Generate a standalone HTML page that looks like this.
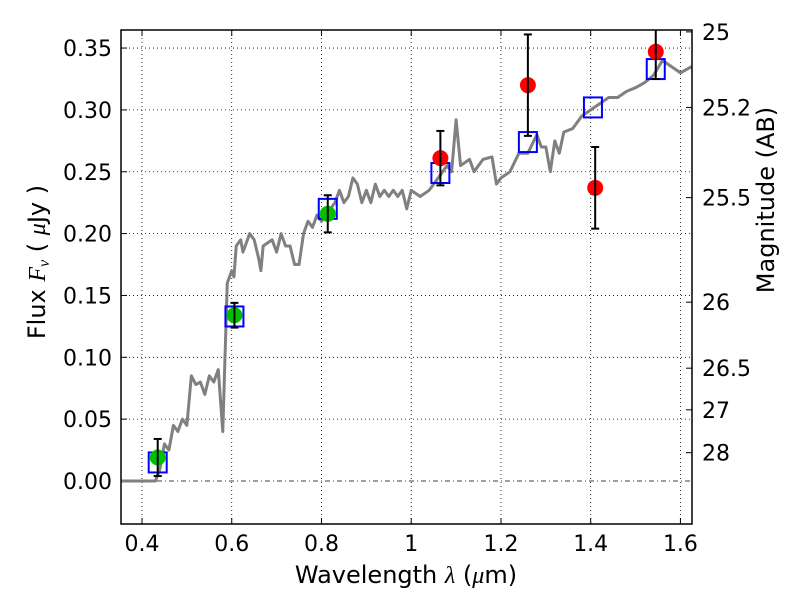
<!DOCTYPE html>
<html><head><meta charset="utf-8"><style>body{margin:0;background:#fff}svg{display:block}text{font-family:"DejaVu Sans","Liberation Sans",sans-serif;fill:#000}</style></head>
<body>
<svg id="chart" width="800" height="600" xmlns="http://www.w3.org/2000/svg"></svg>
<script>
const xTicks=[0.4,0.6,0.8,1.0,1.2,1.4,1.6];
const xTickLabels=["0.4","0.6","0.8","1","1.2","1.4","1.6"];
const yTicks=[0,0.05,0.1,0.15,0.2,0.25,0.3,0.35];
const yTickLabels=["0.00","0.05","0.10","0.15","0.20","0.25","0.30","0.35"];
const magTicks=[25,25.2,25.5,26,26.5,27,28];
const magLabels=["25","25.2","25.5","26","26.5","27","28"];
const specX=[0.35,0.43,0.44,0.45,0.46,0.47,0.48,0.49,0.50,0.51,0.52,0.53,0.54,0.55,0.56,0.57,0.58,0.585,0.59,0.60,0.605,0.61,0.62,0.625,0.64,0.65,0.66,0.665,0.67,0.69,0.70,0.71,0.72,0.73,0.74,0.75,0.76,0.77,0.78,0.79,0.80,0.82,0.83,0.84,0.85,0.86,0.87,0.88,0.89,0.90,0.91,0.92,0.93,0.94,0.95,0.96,0.97,0.98,0.99,1.0,1.02,1.04,1.06,1.08,1.09,1.10,1.11,1.13,1.14,1.16,1.18,1.19,1.20,1.22,1.24,1.26,1.28,1.29,1.30,1.31,1.32,1.33,1.34,1.36,1.38,1.40,1.42,1.44,1.46,1.48,1.50,1.52,1.54,1.56,1.58,1.60,1.625];
const specY=[0,0,0.01,0.03,0.025,0.045,0.04,0.05,0.045,0.085,0.078,0.08,0.07,0.085,0.08,0.09,0.04,0.1,0.16,0.17,0.165,0.19,0.195,0.185,0.2,0.195,0.18,0.17,0.19,0.195,0.185,0.2,0.19,0.19,0.175,0.175,0.2,0.21,0.205,0.215,0.21,0.22,0.225,0.235,0.225,0.23,0.245,0.24,0.225,0.235,0.225,0.24,0.23,0.235,0.23,0.235,0.23,0.235,0.22,0.235,0.23,0.235,0.245,0.255,0.25,0.292,0.255,0.26,0.25,0.26,0.262,0.24,0.245,0.25,0.265,0.265,0.28,0.27,0.27,0.25,0.275,0.265,0.282,0.285,0.295,0.3,0.305,0.31,0.31,0.315,0.318,0.322,0.328,0.34,0.335,0.33,0.335];
const modelX=[0.435,0.606,0.814,1.065,1.26,1.405,1.545];
const modelY=[0.015,0.133,0.22,0.249,0.274,0.302,0.333];
const obsX=[0.435,0.606,0.814,1.065,1.26,1.41,1.545];
const obsY=[0.019,0.134,0.216,0.261,0.320,0.237,0.347];
const obsErr=[0.015,0.01,0.015,0.022,0.041,0.033,0.022];
const obsColor=["#00c000","#00c000","#00c000","red","red","red","red"];

const L=121,R=692,T=30,B=524;
const X=v=>142+(v-0.4)*448.7;
const Y=v=>481-v*1237;
const svg=document.getElementById('chart');
const NS="http://www.w3.org/2000/svg";
function mk(tag,attrs,parent){const e=document.createElementNS(NS,tag);for(const k in attrs)e.setAttribute(k,attrs[k]);(parent||svg).appendChild(e);return e;}
const clip=mk('clipPath',{id:'pc'});mk('rect',{x:L,y:T,width:R-L,height:B-T},clip);

xTicks.forEach((t,i)=>{
 const g=mk('line',{x1:X(t),x2:X(t),y1:T,y2:B,stroke:'#000','stroke-width':0.8,'stroke-dasharray':'1,3'});
 
 mk('line',{x1:X(t),x2:X(t),y1:B,y2:B-6,stroke:'#000'});mk('line',{x1:X(t),x2:X(t),y1:T,y2:T+6,stroke:'#000'});
 const tx=mk('text',{x:X(t),y:B+27,'text-anchor':'middle','font-size':22});tx.textContent=xTickLabels[i];
 
});
yTicks.forEach((t,i)=>{
 const g=mk('line',{x1:L,x2:R,y1:Y(t),y2:Y(t),stroke:'#000','stroke-width':0.8,'stroke-dasharray':t===0?'5,3,1,3':'1,3'});
 
 mk('line',{x1:L,x2:L+6,y1:Y(t),y2:Y(t),stroke:'#000'});
 const tx=mk('text',{x:L-9,y:Y(t)+8,'text-anchor':'end','font-size':22});tx.textContent=yTickLabels[i];
 
});
magTicks.forEach((m,i)=>{
 const f=Math.pow(10,(23.9-m)/2.5);
 mk('line',{x1:R,x2:R-6,y1:Y(f),y2:Y(f),stroke:'#000'});
 const tx=mk('text',{x:R+10,y:Y(f)+8,'font-size':22});tx.textContent=magLabels[i];
 
});
const pc=mk('g',{'clip-path':'url(#pc)'});
const sp=mk('polyline',{points:specX.map((x,i)=>X(x)+','+Y(specY[i])).join(' '),fill:'none',stroke:'#808080','stroke-width':3,'stroke-linejoin':'round'},pc);

modelX.forEach((x,i)=>{
 const r=mk('rect',{x:X(x)-9,y:Y(modelY[i])-10,width:18,height:20,fill:'none',stroke:'blue','stroke-width':2},pc);
 
});
obsX.forEach((x,i)=>{
 const cx=X(x),y1=Y(obsY[i]+obsErr[i]),y2=Y(obsY[i]-obsErr[i]);
 const c=mk('circle',{cx:cx,cy:Y(obsY[i]),r:8,fill:obsColor[i]},pc);
 
 const e=mk('line',{x1:cx,x2:cx,y1:y1,y2:y2,stroke:'#000','stroke-width':2},pc);
 
 mk('line',{x1:cx-4,x2:cx+4,y1:y1,y2:y1,stroke:'#000','stroke-width':2},pc);
 mk('line',{x1:cx-4,x2:cx+4,y1:y2,y2:y2,stroke:'#000','stroke-width':2},pc);
});
const fr=mk('rect',{x:L,y:T,width:R-L,height:B-T,fill:'none',stroke:'#000','stroke-width':1.5});

let t=mk('text',{x:406,y:583,'text-anchor':'middle','font-size':24});t.innerHTML='Wavelength  <tspan font-style="italic" font-family="Liberation Serif">λ</tspan> (<tspan font-style="italic" font-family="Liberation Serif">μ</tspan>m)';

t=mk('text',{x:0,y:0,'text-anchor':'middle','font-size':24,transform:'translate(45,262) rotate(-90)'});t.innerHTML='Flux  <tspan font-style="italic" font-family="Liberation Serif">F<tspan font-size="16" dy="4">ν</tspan></tspan><tspan dy="-4">  ( </tspan><tspan font-style="italic" font-family="Liberation Serif">μ</tspan>Jy )';

t=mk('text',{x:0,y:0,'text-anchor':'middle','font-size':24,transform:'translate(774,200) rotate(-90)'});t.textContent='Magnitude (AB)';

</script>
</body></html>
